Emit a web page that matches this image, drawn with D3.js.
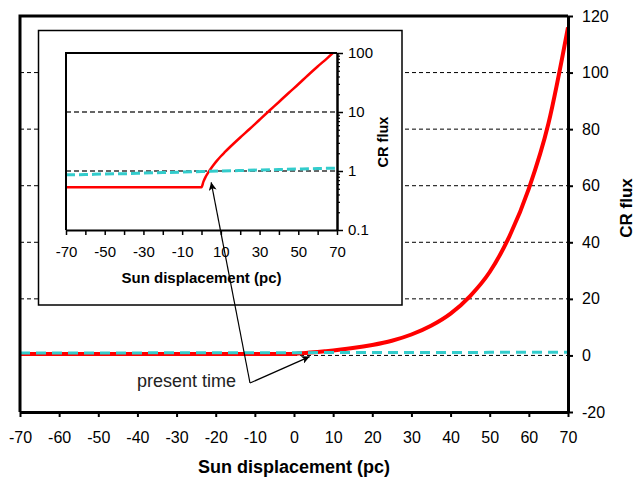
<!DOCTYPE html>
<html>
<head>
<meta charset="utf-8">
<script src="https://cdn.jsdelivr.net/npm/d3@7"></script>
<style>
  html, body { margin: 0; padding: 0; background: #fff; }
  svg { display: block; font-family: "Liberation Sans", Arial, Helvetica, sans-serif; }
</style>
</head>
<body>
<svg id="chart" width="635" height="479"></svg>
<script>
// ---------------- data ----------------
const redX    = [-70, -60, -50, -40, -30, -20, -10, 0, 1, 2, 4, 6, 8, 10, 12, 15, 20, 25, 30, 35, 40, 45, 50, 55, 60, 65, 70];
const redFlux = [0.53, 0.53, 0.53, 0.53, 0.53, 0.53, 0.53, 0.53, 0.66, 0.78, 1.0, 1.24, 1.5, 1.78, 2.08, 2.6, 3.7, 5.2, 7.4, 10.5, 14.8, 21, 29.5, 42, 59, 82, 116];
const cyanX    = [-70, -60, -50, -40, -30, -20, -10, 0, 10, 20, 30, 40, 50, 60, 70];
const cyanFlux = [0.86, 0.87, 0.89, 0.90, 0.92, 0.94, 0.96, 0.98, 1.00, 1.02, 1.04, 1.06, 1.08, 1.10, 1.12];

const mainXTicks = [-70, -60, -50, -40, -30, -20, -10, 0, 10, 20, 30, 40, 50, 60, 70];
const mainYTicks = [-20, 0, 20, 40, 60, 80, 100, 120];
const mainGrid   = [0, 20, 40, 60, 80, 100];
const insetXTicks  = [-70, -60, -50, -40, -30, -20, -10, 0, 10, 20, 30, 40, 50, 60, 70];
const insetXLabels = [-70, -50, -30, -10, 10, 30, 50, 70];
const insetYTicks  = [0.1, 1, 10, 100];
const insetGrid    = [1, 10];
const xTitle = "Sun displacement (pc)";
const yTitle = "CR flux";
const noteText = "present time";

const red = "#ff0000", cyan = "#33cccc";
const fontFam = "Liberation Sans, Arial, sans-serif";

const svg = d3.select("#chart");
const defs = svg.append("defs");

// ---------------- main chart ----------------
const x = d3.scaleLinear().domain([-70, 70]).range([20, 568]);
const y = d3.scaleLinear().domain([-20, 120]).range([412, 16]);

svg.append("g").selectAll("line").data(mainGrid).join("line")
  .attr("x1", x(-70)).attr("x2", x(70))
  .attr("y1", d => y(d)).attr("y2", d => y(d))
  .attr("stroke", "#000").attr("stroke-width", 1).attr("stroke-dasharray", "4,3");

const redData = redX.map((v, i) => [v, redFlux[i]]);
const cyanData = cyanX.map((v, i) => [v, cyanFlux[i]]);

const lineMain = d3.line().x(d => x(d[0])).y(d => y(d[1])).curve(d3.curveMonotoneX);
svg.append("path").datum(redData).attr("d", lineMain)
  .attr("fill", "none").attr("stroke", red).attr("stroke-width", 4);
svg.append("path").datum(cyanData).attr("d", lineMain)
  .attr("fill", "none").attr("stroke", cyan).attr("stroke-width", 3).attr("stroke-dasharray", "10,6");

const xAxis = d3.axisBottom(x).tickValues(mainXTicks).tickSize(5).tickSizeOuter(0).tickPadding(15)
  .tickFormat(d => String(d));
const gx = svg.append("g").attr("transform", `translate(0,${y(-20)})`).call(xAxis);
gx.select(".domain").attr("stroke-width", 3);
gx.selectAll(".tick line").attr("stroke-width", 2);
gx.selectAll("text").attr("font-size", 16).attr("fill", "#000").attr("font-family", fontFam);

const yAxis = d3.axisRight(y).tickValues(mainYTicks).tickSize(5).tickSizeOuter(0).tickPadding(9)
  .tickFormat(d => String(d));
const gy = svg.append("g").attr("transform", `translate(${x(70)},0)`).call(yAxis);
gy.select(".domain").attr("stroke-width", 3);
gy.selectAll(".tick line").attr("stroke-width", 2);
gy.selectAll("text").attr("font-size", 16).attr("fill", "#000").attr("font-family", fontFam);

svg.append("path")
  .attr("d", `M${x(-70)},${y(-20)}V${y(120)}H${x(70)}`)
  .attr("fill", "none").attr("stroke", "#000").attr("stroke-width", 3);

svg.append("text").attr("x", (x(-70) + x(70)) / 2).attr("y", 473)
  .attr("text-anchor", "middle").attr("font-size", 18).attr("font-weight", "bold").text(xTitle);
svg.append("text").attr("transform", `translate(632,208) rotate(-90)`)
  .attr("text-anchor", "middle").attr("font-size", 17).attr("font-weight", "bold").text(yTitle);

// ---------------- inset ----------------
svg.append("rect").attr("x", 38.5).attr("y", 30.5).attr("width", 363.5).attr("height", 274.5)
  .attr("fill", "#fff").attr("stroke", "#000").attr("stroke-width", 1.5);

const xi = d3.scaleLinear().domain([-70, 70]).range([66, 337]);
const yi = d3.scaleLog().domain([0.1, 100]).range([230, 53]);

defs.append("clipPath").attr("id", "insetClip")
  .append("rect").attr("x", xi(-70)).attr("y", yi(100) - 1)
  .attr("width", xi(70) - xi(-70)).attr("height", yi(0.1) - yi(100) + 1);

svg.append("g").selectAll("line").data(insetGrid).join("line")
  .attr("x1", xi(-70)).attr("x2", xi(70))
  .attr("y1", d => yi(d)).attr("y2", d => yi(d))
  .attr("stroke", "#333").attr("stroke-width", 1.5).attr("stroke-dasharray", "5,3");

const lineInset = d3.line().x(d => xi(d[0])).y(d => yi(d[1])).curve(d3.curveMonotoneX);
const gi = svg.append("g").attr("clip-path", "url(#insetClip)");
gi.append("path").datum(redData).attr("d", lineInset)
  .attr("fill", "none").attr("stroke", red).attr("stroke-width", 2.5);
gi.append("path").datum(cyanData).attr("d", lineInset)
  .attr("fill", "none").attr("stroke", cyan).attr("stroke-width", 3).attr("stroke-dasharray", "9,4");

const xiAxis = d3.axisBottom(xi).tickValues(insetXTicks).tickSize(5).tickSizeOuter(0).tickPadding(11.5)
  .tickFormat(d => insetXLabels.includes(d) ? String(d) : "");
const gix = svg.append("g").attr("transform", `translate(0,${yi(0.1)})`).call(xiAxis);
gix.select(".domain").attr("stroke-width", 2);
gix.selectAll(".tick line").attr("stroke-width", 1.5);
gix.selectAll("text").attr("font-size", 15).attr("fill", "#000").attr("font-family", fontFam);

const minor = [];
[0.1, 1, 10].forEach(dec => { for (let k = 2; k <= 9; k++) minor.push(dec * k); });
const giyMinor = d3.axisRight(yi).tickValues(minor).tickSize(3).tickSizeOuter(0).tickFormat("");
const gym = svg.append("g").attr("transform", `translate(${xi(70)},0)`).call(giyMinor);
gym.select(".domain").remove();
gym.selectAll(".tick line").attr("stroke-width", 1.2);

const yiAxis = d3.axisRight(yi).tickValues(insetYTicks).tickSize(6).tickSizeOuter(0).tickPadding(5)
  .tickFormat(d => String(d));
const giy = svg.append("g").attr("transform", `translate(${xi(70)},0)`).call(yiAxis);
giy.select(".domain").attr("stroke-width", 2.5);
giy.selectAll(".tick line").attr("stroke-width", 1.5);
giy.selectAll("text").attr("font-size", 15).attr("fill", "#000").attr("font-family", fontFam);

svg.append("path")
  .attr("d", `M${xi(-70)},${yi(0.1)}V${yi(100)}H${xi(70)}`)
  .attr("fill", "none").attr("stroke", "#000").attr("stroke-width", 2);

svg.append("text").attr("x", (xi(-70) + xi(70)) / 2).attr("y", 283)
  .attr("text-anchor", "middle").attr("font-size", 15).attr("font-weight", "bold").text(xTitle);
svg.append("text").attr("transform", `translate(388,142) rotate(-90)`)
  .attr("text-anchor", "middle").attr("font-size", 14.5).attr("font-weight", "bold").text(yTitle);

// ---------------- annotation ----------------
defs.append("marker").attr("id", "arrow")
  .attr("viewBox", "0 0 10 10").attr("refX", 10).attr("refY", 5)
  .attr("markerWidth", 10).attr("markerHeight", 8).attr("markerUnits", "userSpaceOnUse")
  .attr("orient", "auto")
  .append("path").attr("d", "M0,0L10,5L0,10L2.5,5Z").attr("fill", "#000");

const pivot = [250, 383];
svg.append("line").attr("x1", pivot[0]).attr("y1", pivot[1])
  .attr("x2", x(4)).attr("y2", y(1) + 4)
  .attr("stroke", "#000").attr("stroke-width", 1.2).attr("marker-end", "url(#arrow)");
svg.append("line").attr("x1", pivot[0]).attr("y1", pivot[1])
  .attr("x2", xi(5)).attr("y2", yi(0.75) + 4)
  .attr("stroke", "#000").attr("stroke-width", 1.2).attr("marker-end", "url(#arrow)");

svg.append("text").attr("x", 137).attr("y", 387).attr("font-size", 18).attr("fill", "#222").text(noteText);
</script>
</body>
</html>
